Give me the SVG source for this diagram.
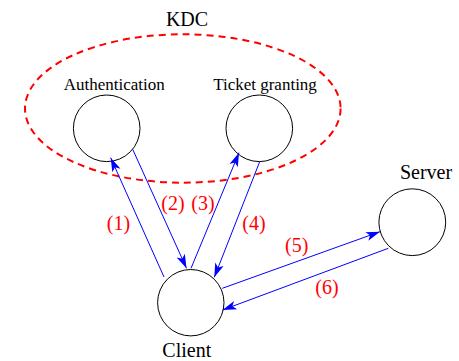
<svg xmlns="http://www.w3.org/2000/svg" width="459" height="361" viewBox="0 0 459 361">
<style>
.node{fill:#fff;stroke:#000;stroke-width:1}
.lbl{font-family:"Liberation Serif","Times New Roman",serif;fill:#000;text-anchor:middle}
.num{font-family:"Liberation Serif","Times New Roman",serif;fill:#ff0000;font-size:20px;text-anchor:middle}
.conn{stroke:#0000ff;stroke-width:1;fill:none;marker-end:url(#ah)}
</style>
<defs>
<marker id="ah" markerUnits="userSpaceOnUse" markerWidth="16" markerHeight="12" viewBox="-15 -6 16 12" refX="0" refY="0" orient="auto">
<path d="M0,0 L-14,-4.5 L-10.5,0 L-14,4.5 Z" fill="#0000ff"/>
</marker>
</defs>
<g id="kdc">
<ellipse cx="182.8" cy="108.5" rx="157.8" ry="74.2" fill="none" stroke="#ff0000" stroke-width="2" stroke-dasharray="7 5"/>
<text class="lbl" x="187" y="26" font-size="20">KDC</text>
</g>
<g id="authentication">
<circle class="node" cx="106.7" cy="128.3" r="33.3"/>
<text class="lbl" x="114.3" y="90" font-size="17">Authentication</text>
</g>
<g id="ticket-granting">
<circle class="node" cx="259.3" cy="128.3" r="33.3"/>
<text class="lbl" x="265" y="89.5" font-size="17">Ticket granting</text>
</g>
<g id="server">
<circle class="node" cx="412.3" cy="222.2" r="33.4"/>
<text class="lbl" x="426" y="179.3" font-size="20">Server</text>
</g>
<g id="client">
<circle class="node" cx="190.8" cy="302.7" r="33.2"/>
<text class="lbl" x="186.8" y="357.3" font-size="20">Client</text>
</g>
<g id="connectors">
<line class="conn" x1="164" y1="277" x2="110.7" y2="157.7"/>
<line class="conn" x1="132.7" y1="149.3" x2="186.5" y2="268.3"/>
<line class="conn" x1="191" y1="268.3" x2="239" y2="152.7"/>
<line class="conn" x1="259.7" y1="161.7" x2="214.3" y2="277.3"/>
<line class="conn" x1="222.3" y1="288.3" x2="380" y2="231.7"/>
<line class="conn" x1="388.3" y1="248.3" x2="222.5" y2="310"/>
<text class="num" x="118.5" y="230">(1)</text>
<text class="num" x="173" y="209.5">(2)</text>
<text class="num" x="203" y="209.5">(3)</text>
<text class="num" x="254" y="229.5">(4)</text>
<text class="num" x="296.7" y="251.5">(5)</text>
<text class="num" x="327" y="294">(6)</text>
</g>
</svg>
